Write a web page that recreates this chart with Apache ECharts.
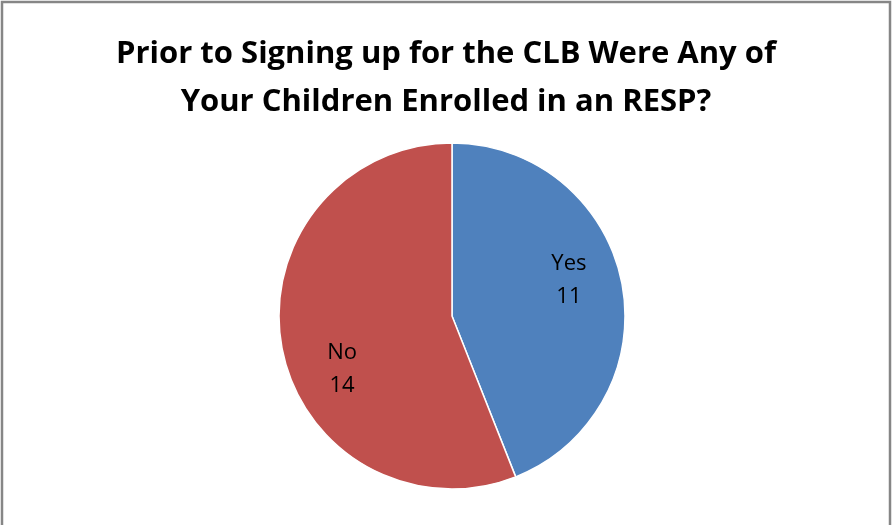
<!DOCTYPE html>
<html><head><meta charset="utf-8">
<script src="https://cdn.jsdelivr.net/npm/echarts@6/dist/echarts.min.js"></script>
<style>html,body{margin:0;padding:0;background:#fff}#c{width:892px;height:525px}</style>
</head><body><div id="c"></div>
<script>
const titleLines = ["Prior to Signing up for the CLB Were Any of", "Your Children Enrolled in an RESP?"];
const categories = ["Yes", "No"];
const values = [11, 14];
const colors = ["#4F81BD", "#C0504D"];
const labelOffsets = [[29, -19], [-22, 36]];

const chart = echarts.init(document.getElementById('c'));
chart.setOption({
  animation: false,
  backgroundColor: '#fff',
  graphic: [{
    type: 'rect', shape: {x: 2, y: 2, width: 888, height: 540},
    style: {fill: 'none', stroke: '#868686', lineWidth: 2.5}, silent: true
  }],
  title: {
    text: titleLines.join('\n'), left: 'center', top: 25,
    textStyle: {fontFamily: 'Open Sans', fontWeight: 'bold', fontSize: 31, color: '#000', lineHeight: 48}
  },
  series: [{
    type: 'pie', center: [452, 316], radius: [0, 173], startAngle: 90, clockwise: true,
    silent: true,
    data: categories.map((c, i) => ({
      name: c, value: values[i], itemStyle: {color: colors[i]},
      label: {offset: labelOffsets[i]}
    })),
    label: {
      show: true, position: 'inside', formatter: '{b}\n{c}',
      fontFamily: 'Open Sans', fontSize: 22, color: '#000', lineHeight: 33
    },
    labelLine: {show: false},
    itemStyle: {borderColor: '#fff', borderWidth: 1.5}
  }]
});
</script></body></html>
